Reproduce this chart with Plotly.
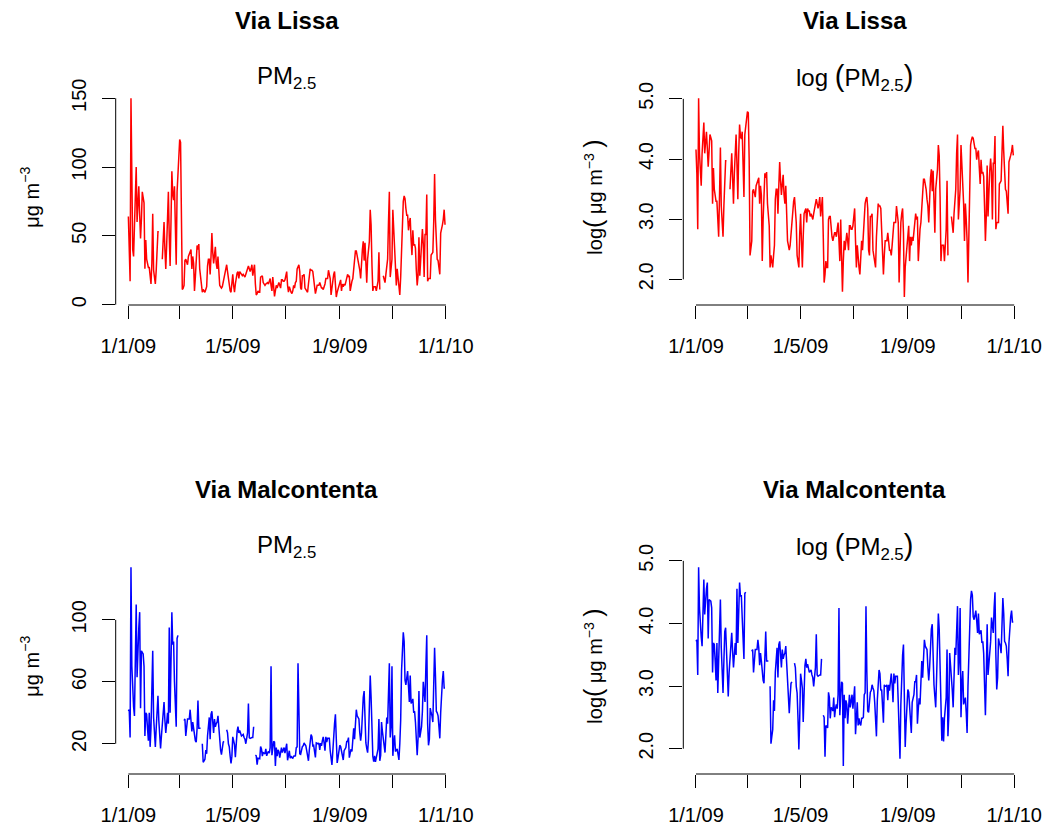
import numpy as np
import pandas as pd
import plotly.graph_objects as go

# ---------------- data: daily PM2.5 (ug/m3), 2009 ----------------
dates = pd.date_range("2009-01-01", "2009-12-31", freq="D")
N = None
lissa_jan = [64, 43, 17, 150, 60, 40, 35, 60, 85, 100, 60, 72, 86, 65, 48, 62, 82, 78, 74, 26, 47, 33, 30, 27, 27, 20, 15, 30, 66, 25, 18]
lissa_feb = [15, 25, 40, 53, 53, N, N, N, 33, 45, 60, 40, 26, 43, 60, 82, 50, 28, 60, 97, 80, 76, 86, 50, 29, 82, 95, 108]
lissa_mar = [120, 118, 54, 11, 12, 14, 32, 33, 31, 29, 35, 37, 38, 40, 26, 35, 30, 10, 20, 35, 43, 40, 44, 26, 20, 18, 9, 11, 10, 9, 11]
lissa_apr = [13, 28, 33, 33, 22, 35, 52, 38, 30, 36, 42, 30, 26, 35, 20, 14, 13, 12, 13, 16, 19, 24, 27, 29, 24, 19, 11, 10, 9, 16]
lissa_may = [22, 14, 9, 15, 22, 23, 24, 19, 24, 23, 23, 21, 22, 21, 20, 22, 24, 26, 28, 26, 24, 26, 29, 21, 25, 29, 15, 7, 8, 10, 9]
lissa_jun = [9, 20, 21, 21, 16, 15, 14, 15, 16, 16, 15, 17, 19, 14, 10, 20, 12, 6, 10, 14, 12, 14, 16, 14, 12, 18, 18, 17, 17, 18]
lissa_jul = [21, 24, 14, 9, 13, 10, 9, 8, 10, 14, 12, 16, 17, 26, 28, 29, 24, 12, 11, 21, 21, 22, 12, 11, 10, 9, 15, 20, 26, 25, 25]
lissa_aug = [24, 17, 11, 8, 11, 14, 14, 14, 16, 14, 12, 12, 11, 13, 15, 19, 19, 19, 25, 22, 19, 7, 14, 19, 22, 24, 16, 5.5, 9, 11, 13]
lissa_sep = [16, 18, 10, 15, 13, 15, 14, 17, 19, 22, 20, 21, 10, 15, 17, 19, 25, 32, 39, 39, 36, 33, 28, 25, 19, 36, 40, 46, 32, 45]
lissa_oct = [25, 16, 33, 40, 46, 69, 58, 29, 10, 13, 13, 13, 10, 14, 17, 38, 11, N, N, N, 21, 19, 16, 22, 26, 33, 60, 82, 20, 28, 33]
lissa_nov = [69, 52, 35, 26, 14, 26, 20, 14, 7, 20, 41, 69, 75, 79, 77, 70, 65, 65, 54, 60, 63, 47, 36, 54, 43, 44, 41, 25, 14, 21]
lissa_dec = [49, 21, 33, 45, 55, 44, 20, 51, 51, 80, 17, 19, 19, 19, 36, 37, 38, 60, 95, 62, 45, 33, 32, 28, 22, 52, 57, 58, 62, 69, 58]

malc_jan = [41, 42, 24, 134, 70, 50, 44, 38, 70, 110, 63, 89, 95, 105, 43, 80, 79, 78, 70, 25, 40, 39, 30, 22, 40, 18, 30, 62, 80, 37, 25]
malc_feb = [18, 30, 48, 51, 35, 27, 17, 25, 33, 43, 47, 35, 27, 33, 40, 33, 95, 40, 70, 105, 84, 86, 60, 45, 31, 88, 90, N]
malc_mar = [N, N, N, N, N, 35, 36, 25, 30, 36, 36, 36, 42, 37, 28, 34, 30, 25, 22, 21, 30, 48, 30, 30, 30, N, 20, 8, 9, 10, 16]
malc_apr = [13.5, 25, 30, 37, 23, 39, 41, 33, 27, 36, 31, 33, 34, 38, 28, 20, 16, 13, 17, 21, 21.5, N, N, 29, 27, 20, 18, 12, 7.3, 12]
malc_may = [24.5, 22, 19.5, 11.3, 24, 28, 31, 27, 28.5, 25.5, 25, 25.5, 26, 24, 23, 20, 25.5, 27, 46, 24, 23.5, 24, 24, 24, 31, N, 12.6, 12.2, 6.5, 10.7, 10.5]
malc_jun = [10.3, 18.2, 16.7, 12, 14.3, 14, 13.5, 16.7, 12.2, 14, 15, 14, 17.5, 70, 12.6, 17, 21.5, 21, 5.6, 17.5, 12, 16, 15, 11, 14, 17.5, 14.3, 16, 17.5, 14]
malc_jul = [17, 20, 9.3, 12, 15.5, 10.7, 12, 11, 10.7, 12, 12, 12.2, 17.5, 18, 72, 25, 13.5, 13.2, 16, 18.2, 18.7, 20.5, 19.5, 18.7, 15.5, 11, 9, 16, 20, 26, 24.5]
malc_aug = [18.7, 19, 15, 11.2, 20.5, 20, 20, 20.5, 16, 20.5, 18.7, 22, 24.5, 20.5, 15.5, 24.5, 21, 23.5, 23.5, 23.5, 15.5, 8, 6.3, 15, 28, 33, 39, 16.5, 7.6, 11, 15]
malc_sep = [19, 18.2, 15, 13.2, 9.5, 15.5, 16.5, 17.5, 21.5, 21.5, 24, 11, 14, 16.5, 15, 20.5, 30, 23, 33, 42, 38, 37, 36, 27, 22, 27, 45, 50, 54, 30]
malc_oct = [20.5, 17, 14.3, 23, 40, 64, 50, 23.5, 12, 8.4, 12.2, 8.3, 12, 14, 16.7, 36, 9, 12.5, 34, 28, 24, 18.7, 14.3, 25.5, 37, 33, 50, 72, 24, 31, 70]
malc_nov = [12.2, 20.5, 25.5, 15, 16, 16.7, 13.2, 9.5, 20, 35, 67, 80, 92, 86, 61, 58, 62, 67, 57, 47, 64, 46, 47, 49, 40, 41, 34, 20, 12.6, 23.5]
malc_dec = [54, 24, 28, 31, 41, 60, 53, 47, 70, 90, 33, 19, 23, 43, 40, 38, 34, 55, 82, 64, 41, 40, 38, 31, 23.5, 40, 53, 61, 67, 56, 56]

lissa = (lissa_jan + lissa_feb + lissa_mar + lissa_apr + lissa_may + lissa_jun +
         lissa_jul + lissa_aug + lissa_sep + lissa_oct + lissa_nov + lissa_dec)
malcontenta = (malc_jan + malc_feb + malc_mar + malc_apr + malc_may + malc_jun +
               malc_jul + malc_aug + malc_sep + malc_oct + malc_nov + malc_dec)
assert len(lissa) == 365 and len(malcontenta) == 365, (len(lissa), len(malcontenta))

x_label_vals = ["2009-01-01", "2009-05-01", "2009-09-01", "2010-01-01"]
x_label_text = ["1/1/09", "1/5/09", "1/9/09", "1/1/10"]
x_minor_vals = ["2009-03-01", "2009-07-01", "2009-11-01"]
lin_ticks_lissa = [0, 50, 100, 150]
lin_ticks_malc = [20, 60, 100]
log_ticks = [2.0, 3.0, 4.0, 5.0]

# ---------------- helpers ----------------
W, H = 1045, 827
FONT = "Liberation Sans, Arial, Helvetica, sans-serif"


def to_arr(v):
    return np.array([np.nan if a is None else a for a in v], dtype=float)


def clean(a):
    return [None if np.isnan(x) else float(x) for x in a]


def r_range(a):
    lo, hi = np.nanmin(a), np.nanmax(a)
    r = hi - lo
    return [lo - 0.04 * r, hi + 0.04 * r]


span = (dates[-1] - dates[0]) * 0.04
x_range = [str(dates[0] - span), str(dates[-1] + span)]

# panel geometry in pixels (left, right, top, bottom)
panels = [
    dict(px=(115.7, 457.7), py=(90.3, 305.0)),
    dict(px=(683.3, 1026.0), py=(90.3, 305.0)),
    dict(px=(115.7, 457.7), py=(559.3, 774.0)),
    dict(px=(683.3, 1026.0), py=(559.3, 774.0)),
]

lis = to_arr(lissa)
mal = to_arr(malcontenta)
series = [
    (lis, "#FF0000", lin_ticks_lissa, None),
    (np.log(lis), "#FF0000", log_ticks, ".1f"),
    (mal, "#0000FF", lin_ticks_malc, None),
    (np.log(mal), "#0000FF", log_ticks, ".1f"),
]

fig = go.Figure()
layout = dict(
    template="none",
    width=W, height=H, autosize=False,
    margin=dict(l=0, r=0, t=0, b=0, pad=0),
    paper_bgcolor="white", plot_bgcolor="white",
    showlegend=False,
    font=dict(family=FONT, size=20, color="black"),
    shapes=[], annotations=[],
)

tickstyle = dict(ticks="outside", ticklen=13, tickwidth=1, tickcolor="black")

for i, (p, (vals, col, yticks, yfmt)) in enumerate(zip(panels, series), start=1):
    sfx = "" if i == 1 else str(i)
    xa, ya = "x" + sfx, "y" + sfx
    fig.add_trace(go.Scatter(
        x=dates, y=clean(vals), mode="lines",
        line=dict(color=col, width=1.5), connectgaps=False,
        xaxis=xa, yaxis=ya, hoverinfo="skip",
    ))
    xd = [p["px"][0] / W, p["px"][1] / W]
    yd = [1 - p["py"][1] / H, 1 - p["py"][0] / H]
    layout["xaxis" + sfx] = dict(
        domain=xd, anchor=ya, type="date", range=x_range, automargin=False,
        tickmode="array", tickvals=x_label_vals, ticktext=x_label_text,
        minor=dict(tickmode="array", tickvals=x_minor_vals, showgrid=False, **tickstyle),
        showline=False, showgrid=False, zeroline=False,
        tickfont=dict(family=FONT, size=20, color="black"),
        ticklabelstandoff=10, **tickstyle,
    )
    yax = dict(
        domain=yd, anchor=xa, range=r_range(vals), automargin=False,
        tickmode="array", tickvals=yticks, tickangle=-90,
        showline=False, showgrid=False, zeroline=False,
        tickfont=dict(family=FONT, size=20, color="black"),
        ticklabelstandoff=8, **tickstyle,
    )
    if yfmt:
        yax["tickformat"] = yfmt
    layout["yaxis" + sfx] = yax
    # R-style axis lines spanning first to last tick
    layout["shapes"].append(dict(
        type="line", xref=xa, yref=ya + " domain",
        x0=x_label_vals[0], x1=x_label_vals[-1], y0=0, y1=0,
        line=dict(color="black", width=1)))
    layout["shapes"].append(dict(
        type="line", xref=xa + " domain", yref=ya,
        x0=0, x1=0, y0=yticks[0], y1=yticks[-1],
        line=dict(color="black", width=1)))

# ---------------- titles & axis titles ----------------
BP = '<span style="font-size:29px">%s</span>'
log_sub = "log " + BP % "(" + "PM<sub>2.5</sub>" + BP % ")"
log_ylab = "log" + '<span style="font-size:25px">(</span>' + " μg m<sup>−3</sup> " + '<span style="font-size:25px">)</span>'
titles = [
    ("Via Lissa", "PM<sub>2.5</sub>", "μg m<sup>−3</sup>", 30),
    ("Via Lissa", log_sub, log_ylab, 593),
    ("Via Malcontenta", "PM<sub>2.5</sub>", "μg m<sup>−3</sup>", 30),
    ("Via Malcontenta", log_sub, log_ylab, 593),
]
for p, (main, sub, ylab, ylx) in zip(panels, titles):
    cx = (p["px"][0] + p["px"][1]) / 2 / W
    top = p["py"][0]
    layout["annotations"].append(dict(
        text="<b>" + main + "</b>", xref="paper", yref="paper",
        x=cx, y=1 - (top - 70) / H, xanchor="center", yanchor="middle",
        showarrow=False, font=dict(family=FONT, size=24, color="black")))
    layout["annotations"].append(dict(
        text=sub, xref="paper", yref="paper",
        x=cx, y=1 - (top - 13) / H, xanchor="center", yanchor="middle",
        showarrow=False, font=dict(family=FONT, size=24, color="black")))
    layout["annotations"].append(dict(
        text=ylab, xref="paper", yref="paper",
        x=ylx / W, y=1 - (p["py"][0] + p["py"][1]) / 2 / H,
        xanchor="center", yanchor="middle", textangle=-90,
        showarrow=False, font=dict(family=FONT, size=20, color="black")))

fig.update_layout(**layout)
fig.write_html("out.html", post_script="document.body.style.margin='0px';")
